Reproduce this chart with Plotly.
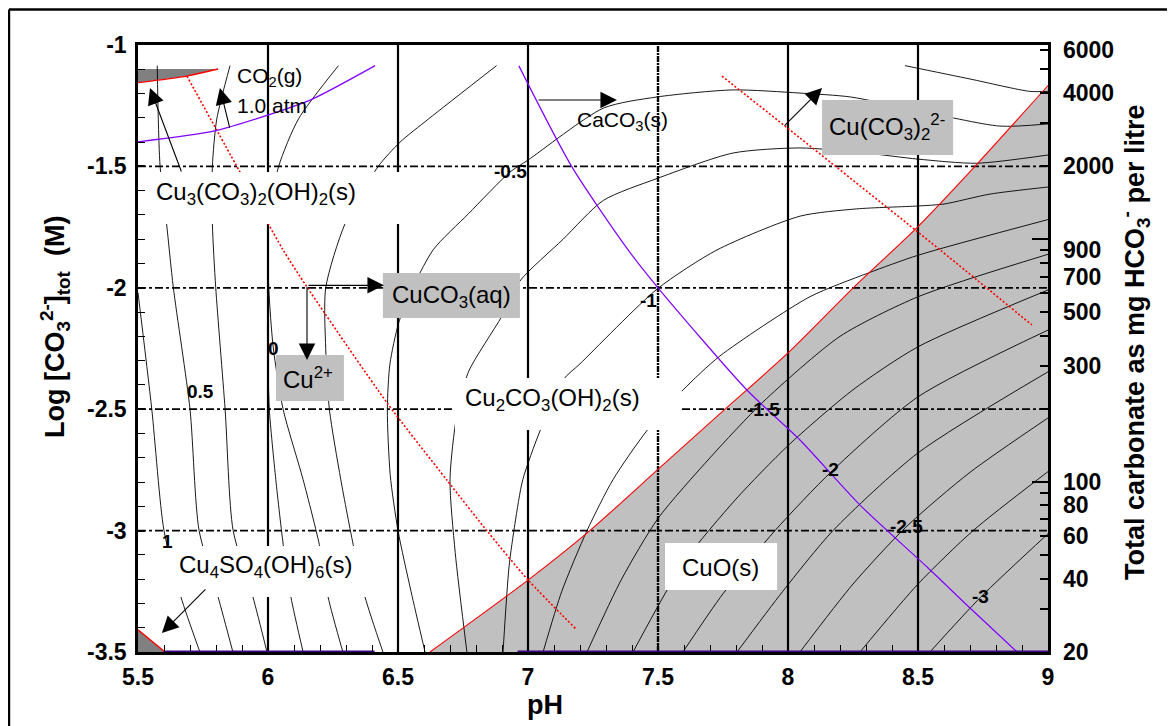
import math
import plotly.graph_objects as go

# ---------------- axes / ticks ----------------
PH_RANGE = [5.5, 9.0]
LOGC_RANGE = [-3.5, -1.0]
MG_PER_MOL = 63000.0  # scale factor used by the right-hand axis

x_tick_vals = [5.5, 6, 6.5, 7, 7.5, 8, 8.5, 9]
x_tick_text = ["5.5", "6", "6.5", "7", "7.5", "8", "8.5", "9"]
y_tick_vals = [-1, -1.5, -2, -2.5, -3, -3.5]
y_tick_text = ["-1", "-1.5", "-2", "-2.5", "-3", "-3.5"]
mg_tick_vals = [20, 30, 40, 50, 60, 70, 80, 90, 100, 200, 300, 400, 500, 600,
                700, 800, 900, 1000, 2000, 3000, 4000, 5000, 6000]
mg_tick_text = ["20", "", "40", "", "60", "", "80", "", "100", "", "300", "",
                "500", "", "700", "", "900", "", "2000", "", "4000", "", "6000"]
mg_decade_ticks = [100, 1000]

grid_ph_solid = [6, 6.5, 7, 8, 8.5]
grid_ph_dashdot = [7.5]
grid_logc = [-1.5, -2, -2.5, -3]

# ---------------- boundaries ----------------
cuo_ph = [6.623, 7.0, 7.238, 7.5, 7.758, 8.0, 8.251, 8.5, 8.719, 9.0]
cuo_logc = [-3.5, -3.204, -3.0, -2.748, -2.5, -2.268, -2.0, -1.748, -1.5, -1.167]

co2_ph = [5.5, 5.688, 5.808]
co2_logc = [-1.155, -1.128, -1.099]
co2_top_logc = -1.099

sulf_ph = [5.5, 5.604]
sulf_logc = [-3.409, -3.5]

reddot1_ph = [5.688, 5.892, 6.058, 6.150, 6.458, 6.688, 6.846, 7.0, 7.188]
reddot1_logc = [-1.128, -1.523, -1.844, -1.997, -2.474, -2.792, -3.006, -3.203, -3.409]
reddot2_ph = [7.746, 8.046, 8.585, 8.938]
reddot2_logc = [-1.128, -1.383, -1.844, -2.153]

purple1_ph = [5.5, 5.795, 5.999, 6.168, 6.412]
purple1_logc = [-1.399, -1.354, -1.289, -1.224, -1.085]
purple2_ph = [6.965, 7.169, 7.385, 7.5, 7.842, 8.046, 8.277, 8.535, 8.7, 8.881]
purple2_logc = [-1.086, -1.502, -1.844, -2.0, -2.421, -2.627, -2.895, -3.150, -3.319, -3.5]
purple_base_ph = [(5.604, 6.41), (6.96, 9.0)]

# ---------------- contour lines ----------------
c_l1_ph = [5.5, 5.553, 5.60, 5.665, 5.738]
c_l1_logc = [-2.02, -2.5, -3.0, -3.273, -3.5]
c_l2_ph = [5.574, 5.578, 5.585, 5.61, 5.636, 5.70, 5.735, 5.808, 5.865]
c_l2_logc = [-1.085, -1.305, -1.5, -1.737, -2.0, -2.5, -3.0, -3.273, -3.5]
c_l3_ph = [5.854, 5.803, 5.786, 5.786, 5.799, 5.835, 5.866, 5.942, 5.996]
c_l3_logc = [-1.085, -1.305, -1.5, -1.737, -2.0, -2.5, -3.0, -3.273, -3.5]
c_l4_ph = [6.271, 6.117, 6.041, 6.0, 6.003, 6.02, 6.058, 6.135, 6.2, 6.231, 6.288]
c_l4_logc = [-1.085, -1.305, -1.5, -1.737, -2.0, -2.244, -2.5, -2.79, -3.07, -3.273, -3.5]
c_l4c_ph = [6.0, 6.005, 6.03, 6.06, 6.088, 6.135]
c_l4c_logc = [-2.3, -2.5, -2.79, -3.07, -3.273, -3.5]
c_l5_ph = [6.879, 6.617, 6.508, 6.424, 6.296, 6.222, 6.222, 6.236, 6.28, 6.33, 6.373, 6.442]
c_l5_logc = [-1.085, -1.305, -1.40, -1.5, -1.737, -2.0, -2.25, -2.5, -2.79, -3.07, -3.273, -3.5]
c_r1_ph = [8.45, 8.7, 8.93, 9.0]
c_r1_logc = [-1.085, -1.14, -1.191, -1.191]
c_m1_ph = [9.0, 8.815, 8.5, 8.24, 8.046, 7.788, 7.496, 7.29, 7.0, 6.931, 6.771, 6.635,
           6.54, 6.501, 6.469, 6.459, 6.47, 6.50, 6.55, 6.604]
c_m1_logc = [-1.325, -1.334, -1.27, -1.214, -1.198, -1.185, -1.214, -1.26, -1.474, -1.523,
             -1.695, -1.844, -2.037, -2.15, -2.313, -2.5, -2.77, -3.0, -3.25, -3.5]
c_m2_ph = [9.0, 8.726, 8.5, 8.3, 8.046, 7.788, 7.496, 7.29, 7.135, 6.969, 6.899, 6.771,
           6.726, 6.70, 6.72, 6.765]
c_m2_logc = [-1.453, -1.487, -1.47, -1.445, -1.424, -1.445, -1.55, -1.64, -1.80, -1.972,
             -2.118, -2.346, -2.525, -2.79, -3.09, -3.5]
c_m3_ph = [9.0, 8.777, 8.6, 8.5, 8.264, 8.046, 7.727, 7.498, 7.2, 7.136, 7.046, 6.98,
           6.95, 6.927, 6.904]
c_m3_logc = [-1.585, -1.614, -1.655, -1.663, -1.675, -1.705, -1.844, -2.004, -2.313, -2.378,
             -2.59, -2.79, -2.97, -3.15, -3.5]
c_m4_ph = [9.0, 8.5, 8.309, 8.084, 7.738, 7.597, 7.456, 7.327, 7.227, 7.13, 7.058]
c_m4_logc = [-1.719, -1.866, -1.939, -2.037, -2.281, -2.42, -2.59, -2.79, -3.0, -3.25, -3.5]
c_m5_ph = [9.0, 8.5, 8.2, 7.904, 7.7, 7.5, 7.36, 7.227]
c_m5_logc = [-1.862, -2.037, -2.2, -2.47, -2.7, -2.95, -3.2, -3.5]
c_m6_ph = [9.0, 8.5, 8.25, 8.0, 7.8, 7.6, 7.404]
c_m6_logc = [-2.009, -2.243, -2.42, -2.65, -2.87, -3.13, -3.5]
c_m7_ph = [9.0, 8.5, 8.169, 7.95, 7.75, 7.596]
c_m7_logc = [-2.174, -2.449, -2.755, -3.0, -3.26, -3.5]
c_m8_ph = [9.0, 8.5, 8.173, 7.98, 7.804]
c_m8_logc = [-2.346, -2.68, -3.0, -3.25, -3.5]
c_m9_ph = [9.0, 8.7, 8.454, 8.25, 8.046]
c_m9_logc = [-2.536, -2.76, -2.985, -3.22, -3.5]
c_m10_ph = [9.0, 8.712, 8.5, 8.277]
c_m10_logc = [-2.757, -3.0, -3.22, -3.5]
c_m11_ph = [9.0, 8.742, 8.546]
c_m11_logc = [-3.013, -3.273, -3.5]

contours = [
    (c_l1_ph, c_l1_logc), (c_l2_ph, c_l2_logc), (c_l3_ph, c_l3_logc),
    (c_l4_ph, c_l4_logc), (c_l4c_ph, c_l4c_logc), (c_l5_ph, c_l5_logc),
    (c_r1_ph, c_r1_logc), (c_m1_ph, c_m1_logc), (c_m2_ph, c_m2_logc),
    (c_m3_ph, c_m3_logc), (c_m4_ph, c_m4_logc), (c_m5_ph, c_m5_logc),
    (c_m6_ph, c_m6_logc), (c_m7_ph, c_m7_logc), (c_m8_ph, c_m8_logc),
    (c_m9_ph, c_m9_logc), (c_m10_ph, c_m10_logc), (c_m11_ph, c_m11_logc),
]

# contour labels (text, pH, logC)
contour_label_text = ["1", "0.5", "0", "-0.5", "-1", "-1.5", "-2", "-2.5", "-3"]
contour_label_ph = [5.615, 5.742, 6.023, 6.931, 7.462, 7.904, 8.165, 8.454, 8.742]
contour_label_logc = [-3.043, -2.429, -2.248, -1.523, -2.054, -2.5, -2.75, -2.985, -3.273]

# region / species labels
white_box_x0 = [5.531, 6.719, 5.531, 7.527]
white_box_x1 = [6.527, 7.592, 6.412, 7.958]
white_box_y0 = [-1.523, -2.371, -3.063, -3.051]
white_box_y1 = [-1.737, -2.586, -3.273, -3.245]
gray_box_x0 = [8.131, 6.442, 6.031]
gray_box_x1 = [8.635, 6.969, 6.292]
gray_box_y0 = [-1.2265, -1.939, -2.277]
gray_box_y1 = [-1.453, -2.124, -2.466]

species_text = ["Cu<sub>3</sub>(CO<sub>3</sub>)<sub>2</sub>(OH)<sub>2</sub>(s)",
                "Cu<sub>2</sub>CO<sub>3</sub>(OH)<sub>2</sub>(s)",
                "Cu<sub>4</sub>SO<sub>4</sub>(OH)<sub>6</sub>(s)",
                "CuO(s)",
                "Cu(CO<sub>3</sub>)<sub>2</sub><sup>2-</sup>",
                "CuCO<sub>3</sub>(aq)",
                "Cu<sup>2+</sup>"]
species_ph = [5.952, 7.096, 5.992, 7.742, 8.381, 6.704, 6.154]
species_logc = [-1.61, -2.458, -3.146, -3.15, -1.338, -2.034, -2.371]

small_text = ["CaCO<sub>3</sub>(s)", "CO<sub>2</sub>(g)", "1.0 atm"]
small_ph = [7.362, 5.873, 5.873]
small_logc = [-1.313, -1.132, -1.251]
small_anchor = ["center", "left", "left"]

# arrows: tail -> tip
arrow_tail_ph = [5.854, 5.669, 7.035, 7.981, 6.15, 6.15, 5.765]
arrow_tail_logc = [-1.346, -1.527, -1.2265, -1.338, -1.99, -1.99, -3.236]
arrow_tip_ph = [5.815, 5.546, 7.342, 8.131, 6.446, 6.15, 5.592]
arrow_tip_logc = [-1.177, -1.177, -1.2265, -1.177, -1.99, -2.297, -3.422]

FONT = "Liberation Sans, Arial, sans-serif"

fig = go.Figure()

def add_line(x, y, color="black", width=1.0, dash=None, fill=None, fillcolor=None, smooth=False):
    line = dict(color=color, width=width, dash=dash)
    if smooth:
        line.update(shape="spline", smoothing=0.7)
    fig.add_trace(go.Scatter(x=x, y=y, mode="lines", line=line,
                             fill=fill, fillcolor=fillcolor,
                             hoverinfo="skip", showlegend=False))

# filled regions
add_line(cuo_ph + [PH_RANGE[1]], cuo_logc + [LOGC_RANGE[0]], color="rgba(0,0,0,0)", width=0,
         fill="toself", fillcolor="#c0c0c0")
add_line(co2_ph + [PH_RANGE[0]], co2_logc + [co2_top_logc], color="rgba(0,0,0,0)", width=0,
         fill="toself", fillcolor="#808080")
add_line(sulf_ph + [PH_RANGE[0]], sulf_logc + [LOGC_RANGE[0]], color="rgba(0,0,0,0)", width=0,
         fill="toself", fillcolor="#808080")

# grid lines
for v in grid_ph_solid:
    add_line([v, v], LOGC_RANGE, width=2.2)
for v in grid_ph_dashdot:
    add_line([v, v], LOGC_RANGE, width=2.4, dash="6px,1px,2px,1px")
for v in grid_logc:
    add_line(PH_RANGE, [v, v], width=1.8, dash="8px,3px,3px,3px")

# contour lines
for cx, cy in contours:
    add_line(cx, cy, width=0.9, smooth=True)

# red lines
add_line(cuo_ph, cuo_logc, color="#ff0000", width=1.1, smooth=True)
add_line(co2_ph, co2_logc, color="#ff0000", width=1.4, smooth=True)
add_line(sulf_ph, sulf_logc, color="#ff0000", width=1.4)
add_line(reddot1_ph, reddot1_logc, color="#ff0000", width=1.6, dash="2px,2px", smooth=True)
add_line(reddot2_ph, reddot2_logc, color="#ff0000", width=1.6, dash="2px,2px", smooth=True)

# purple lines
add_line(purple1_ph, purple1_logc, color="#8000ff", width=1.2, smooth=True)
add_line(purple2_ph, purple2_logc, color="#8000ff", width=1.2, smooth=True)

# dummy traces for right axes
fig.add_trace(go.Scatter(x=[None], y=[None], yaxis="y2", showlegend=False, hoverinfo="skip"))
fig.add_trace(go.Scatter(x=[None], y=[None], yaxis="y3", showlegend=False, hoverinfo="skip"))

shapes = []
for x0, x1, y0, y1 in zip(white_box_x0, white_box_x1, white_box_y0, white_box_y1):
    shapes.append(dict(type="rect", xref="x", yref="y", x0=x0, x1=x1, y0=y0, y1=y1,
                       fillcolor="white", line=dict(width=0), layer="above"))
for x0, x1, y0, y1 in zip(gray_box_x0, gray_box_x1, gray_box_y0, gray_box_y1):
    shapes.append(dict(type="rect", xref="x", yref="y", x0=x0, x1=x1, y0=y0, y1=y1,
                       fillcolor="#c0c0c0", line=dict(width=0), layer="above"))
for a, b in purple_base_ph:
    shapes.append(dict(type="line", xref="x", yref="y", x0=a, x1=b, y0=LOGC_RANGE[0],
                       y1=LOGC_RANGE[0], line=dict(color="#3c0080", width=3), layer="above"))
# outer frame (left and top edges)
shapes.append(dict(type="line", xref="paper", yref="paper", x0=-0.1418, x1=-0.1418,
                   y0=-0.2, y1=1.0585, line=dict(color="black", width=2.5)))
shapes.append(dict(type="line", xref="paper", yref="paper", x0=-0.1418, x1=1.2,
                   y0=1.0585, y1=1.0585, line=dict(color="black", width=2.5)))

annotations = []
for t, x, y in zip(contour_label_text, contour_label_ph, contour_label_logc):
    annotations.append(dict(x=x, y=y, xref="x", yref="y", text=t, showarrow=False,
                            font=dict(family=FONT, size=19, color="black", weight="bold")))
for t, x, y in zip(species_text, species_ph, species_logc):
    annotations.append(dict(x=x, y=y, xref="x", yref="y", text=t, showarrow=False,
                            font=dict(family=FONT, size=24, color="black")))
for t, x, y, anc in zip(small_text, small_ph, small_logc, small_anchor):
    annotations.append(dict(x=x, y=y, xref="x", yref="y", text=t, showarrow=False,
                            xanchor=anc, font=dict(family=FONT, size=21, color="black")))
for tx, ty, hx, hy in zip(arrow_tail_ph, arrow_tail_logc, arrow_tip_ph, arrow_tip_logc):
    annotations.append(dict(x=hx, y=hy, ax=tx, ay=ty, xref="x", yref="y", axref="x", ayref="y",
                            text="", showarrow=True, arrowhead=2, arrowsize=3.0,
                            arrowwidth=1.1, arrowcolor="black"))

# axis titles
title_font = dict(family=FONT, size=27, color="black", weight="bold")
annotations.append(dict(x=0.4473, y=-0.0873, xref="paper", yref="paper", text="pH",
                        xanchor="center", yanchor="middle", showarrow=False, font=title_font))
annotations.append(dict(x=-0.0912, y=0.5354, xref="paper", yref="paper", textangle=-90,
                        xanchor="center", yanchor="middle",
                        text="Log [CO<sub>3</sub><sup>2-</sup>]<sub>tot</sub>  (M)",
                        showarrow=False, font=title_font))
annotations.append(dict(x=1.0956, y=0.5107, xref="paper", yref="paper", textangle=-90,
                        xanchor="center", yanchor="middle",
                        text="Total carbonate as mg HCO<sub>3</sub><sup>-</sup> per litre",
                        showarrow=False, font=title_font))

tickfont = dict(family=FONT, size=23, color="black", weight="bold")
mg_range = [math.log10(MG_PER_MOL * 10 ** LOGC_RANGE[0]), math.log10(MG_PER_MOL * 10 ** LOGC_RANGE[1])]

fig.update_layout(
    width=1167, height=718,
    margin=dict(l=130, r=127, t=37, b=74),
    paper_bgcolor="white", plot_bgcolor="white",
    showlegend=False,
    xaxis=dict(range=PH_RANGE, tickmode="array", tickvals=x_tick_vals, ticktext=x_tick_text,
               ticks="inside", ticklen=7, tickwidth=1.5, tickcolor="black",
               minor=dict(tickmode="linear", tick0=5.5, dtick=0.1, ticks="inside", ticklen=7,
                          tickwidth=1.2, tickcolor="black"),
               showline=True, mirror=True, linecolor="black", linewidth=2.5,
               showgrid=False, zeroline=False, tickfont=tickfont, ticklabelstandoff=3),
    yaxis=dict(range=LOGC_RANGE, tickmode="array", tickvals=y_tick_vals, ticktext=y_tick_text,
               ticks="inside", ticklen=7, tickwidth=1.5, tickcolor="black",
               minor=dict(tickmode="linear", tick0=-3.5, dtick=0.1, ticks="inside", ticklen=7,
                          tickwidth=1.2, tickcolor="black"),
               showline=True, mirror=True, linecolor="black", linewidth=2.5,
               showgrid=False, zeroline=False, tickfont=tickfont, ticklabelstandoff=4),
    yaxis2=dict(overlaying="y", side="right", type="log", range=mg_range,
                tickmode="array", tickvals=mg_tick_vals, ticktext=mg_tick_text,
                ticks="inside", ticklen=8, tickwidth=1.5, tickcolor="black",
                showgrid=False, zeroline=False, showline=False, tickfont=tickfont,
                ticklabelstandoff=14),
    yaxis3=dict(overlaying="y", side="right", type="log", range=mg_range,
                tickmode="array", tickvals=mg_decade_ticks, ticktext=["", ""],
                ticks="inside", ticklen=16, tickwidth=1.8, tickcolor="black",
                showticklabels=False, showgrid=False, zeroline=False, showline=False),
    shapes=shapes,
    annotations=annotations,
)

fig.write_html("out.html")
